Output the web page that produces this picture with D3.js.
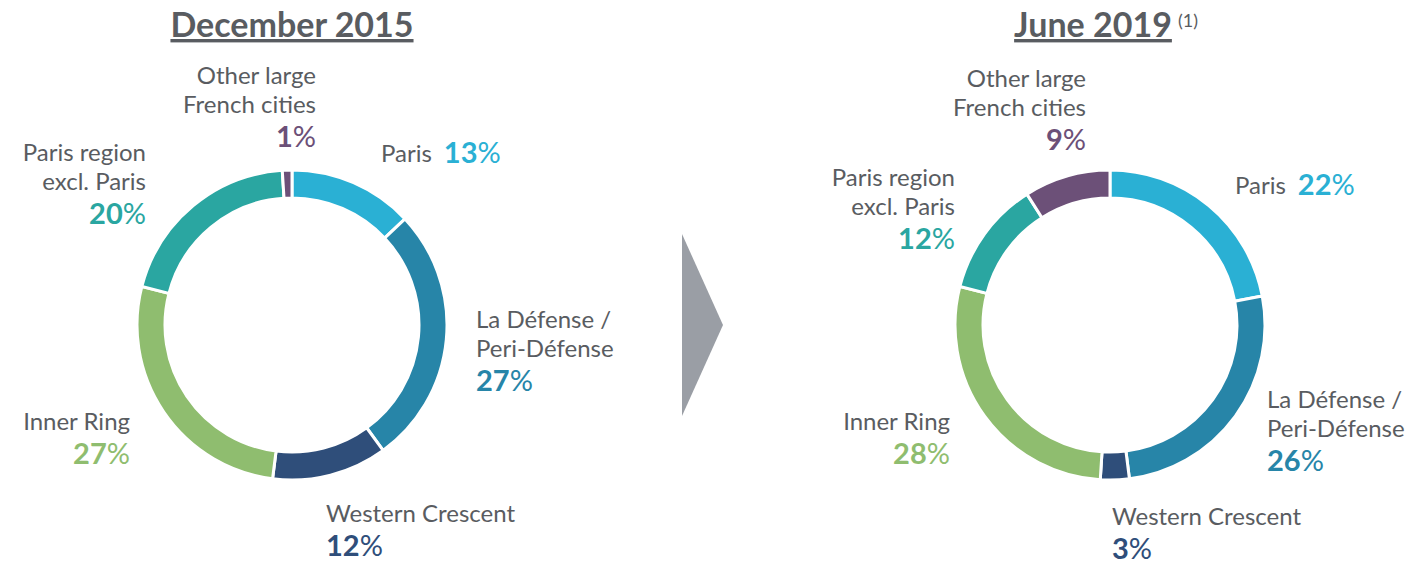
<!DOCTYPE html>
<html>
<head>
<meta charset="utf-8">
<script src="https://cdn.jsdelivr.net/npm/d3@7"></script>
<style>
  body { margin: 0; background: #fff; }
  svg { display: block; font-family: Lato, "Open Sans", sans-serif; }
</style>
</head>
<body>
<div id="chart"></div>
<script>
// shares of portfolio by location
const categories = ["Paris", "La Défense / Peri-Défense", "Western Crescent", "Inner Ring", "Paris region excl. Paris", "Other large French cities"];
const labelLines = [["Paris"], ["La Défense /", "Peri-Défense"], ["Western Crescent"], ["Inner Ring"], ["Paris region", "excl. Paris"], ["Other large", "French cities"]];
const dec2015 = [13, 27, 12, 27, 20, 1];
const jun2019 = [22, 26, 3, 28, 12, 9];
const titles = ["December 2015", "June 2019"];
const colors = ["#2ab0d4", "#2785a8", "#2f4e7a", "#8fbd6f", "#2aa6a1", "#6c5078"];

const width = 1412, height = 566;
const textGrey = "#595c61";

const svg = d3.select("#chart").append("svg")
  .attr("width", width)
  .attr("height", height);

// label layout per panel: offsets from the donut centre, anchor, inline percent
const layouts = [
  [
    { dx: 89, dy: -172, anchor: "start", inline: true },
    { dx: 184, dy: -6, anchor: "start" },
    { dx: 34, dy: 188, anchor: "start" },
    { dx: -162, dy: 96, anchor: "end" },
    { dx: -146, dy: -173, anchor: "end" },
    { dx: 24, dy: -250, anchor: "end" }
  ],
  [
    { dx: 125, dy: -140, anchor: "start", inline: true },
    { dx: 157, dy: 74, anchor: "start" },
    { dx: 2, dy: 191, anchor: "start" },
    { dx: -160, dy: 96, anchor: "end" },
    { dx: -155, dy: -148, anchor: "end" },
    { dx: -24, dy: -247, anchor: "end" }
  ]
];

const panels = [
  { title: titles[0], values: dec2015, cx: 292, cy: 325, note: null },
  { title: titles[1], values: jun2019, cx: 1110, cy: 325, note: "(1)" }
];

const outerR = 155, innerR = 127;
const pie = d3.pie().sort(null).value(d => d);
const arc = d3.arc().innerRadius(innerR).outerRadius(outerR);

const lineH = 29, pctGap = 34;
const labelSize = 24, pctSize = 29;

function addPct(sel, v, color) {
  sel.attr("font-size", pctSize).attr("fill", color);
  sel.append("tspan").attr("font-weight", "bold").text(v);
  sel.append("tspan").text("%");
}

panels.forEach((p, pi) => {
  const g = svg.append("g").attr("transform", `translate(${p.cx},${p.cy})`);

  g.selectAll("path")
    .data(pie(p.values))
    .join("path")
    .attr("d", arc)
    .attr("fill", (d, i) => colors[i])
    .attr("stroke", "#fff")
    .attr("stroke-width", 3);

  // title
  const t = svg.append("text")
    .attr("x", p.cx + (p.note ? -17 : 0))
    .attr("y", 37)
    .attr("text-anchor", "middle")
    .attr("font-size", 34)
    .attr("font-weight", "bold")
    .attr("fill", textGrey)
    .attr("text-decoration", "underline")
    .text(p.title);
  if (p.note) {
    const bb = t.node().getBBox();
    svg.append("text")
      .attr("x", bb.x + bb.width + 6)
      .attr("y", 27)
      .attr("font-size", 18)
      .attr("fill", textGrey)
      .text(p.note);
  }

  // labels
  p.values.forEach((v, i) => {
    const L = layouts[pi][i];
    const x = L.dx, y0 = L.dy;
    const lab = g.append("g");
    if (L.inline) {
      const txt = lab.append("text")
        .attr("x", x).attr("y", y0 + 9)
        .attr("font-size", labelSize)
        .attr("fill", textGrey)
        .text(labelLines[i][0]);
      const w = txt.node().getComputedTextLength();
      addPct(lab.append("text").attr("x", x + w + 12).attr("y", y0 + 10), v, colors[i]);
      return;
    }
    labelLines[i].forEach((line, li) => {
      lab.append("text")
        .attr("x", x).attr("y", y0 + li * lineH + 9)
        .attr("text-anchor", L.anchor)
        .attr("font-size", labelSize)
        .attr("fill", textGrey)
        .text(line);
    });
    addPct(lab.append("text")
      .attr("x", x).attr("y", y0 + (labelLines[i].length - 1) * lineH + 9 + pctGap)
      .attr("text-anchor", L.anchor), v, colors[i]);
  });
});

// arrow between the two dates
svg.append("path")
  .attr("d", d3.line()([[682, 234], [723, 325], [682, 416]]))
  .attr("fill", "#9a9ea5");
</script>
</body>
</html>
